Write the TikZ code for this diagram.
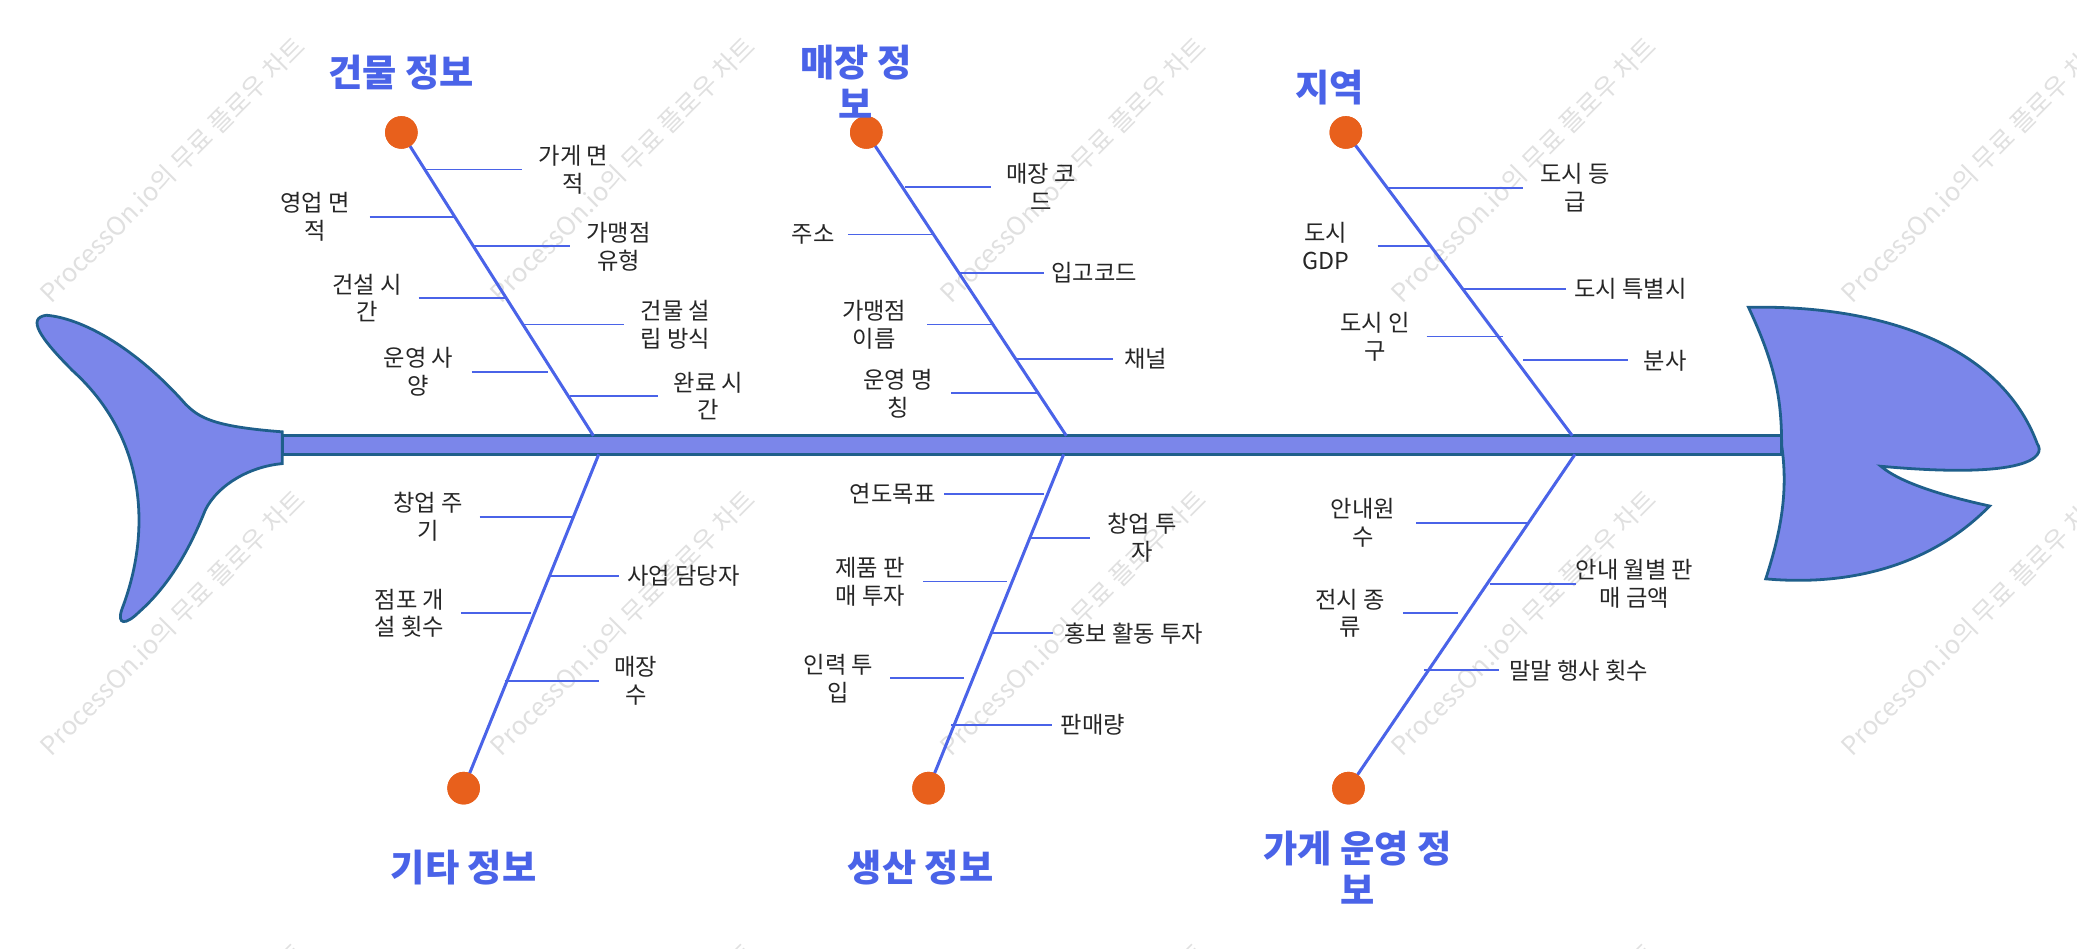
\documentclass[tikz,border=0pt]{standalone}
\usepackage{fontspec}
\setmainfont{Noto Sans CJK KR}
\begin{document}
\begin{tikzpicture}[x=0.02cm,y=-0.02cm,
  bone/.style={draw=boneblue,line width=1.3pt},
  br/.style={draw=boneblue,line width=0.8pt},
  lbl/.style={font=\fontsize{10}{12}\selectfont,align=center,text=black!85,inner sep=1pt},
  ttl/.style={font=\fontsize{16}{18}\selectfont\bfseries,align=center,text=boneblue,inner sep=1pt},
  dot/.style={circle,fill=dotorange,minimum size=14pt,inner sep=0pt},
  wm/.style={font=\fontsize{11}{12}\selectfont,text=black!12,rotate=45}]
\definecolor{boneblue}{HTML}{4A63E8}
\definecolor{dotorange}{HTML}{E8601C}
\definecolor{fishfill}{HTML}{7B86EA}
\definecolor{fishline}{HTML}{1F5F8B}
\useasboundingbox (0,0) rectangle (1568,716);
% watermarks
\foreach \x in {130,470,810,1150,1490}{\foreach \y in {128,470,812}{
  \node[wm] at (\x,\y) {ProcessOn.io의 무료 플로우 차트};}}
% tail
\path[fill=fishfill,draw=fishline,line width=1.2pt]
  (213,326) .. controls (160,322) and (150,315) .. (140,305)
  .. controls (100,260) and (60,240) .. (35,238)
  .. controls (20,240) and (30,255) .. (55,280)
  .. controls (110,330) and (115,400) .. (92,460)
  .. controls (88,472) and (95,472) .. (105,462)
  .. controls (130,440) and (145,410) .. (155,385)
  .. controls (165,365) and (190,352) .. (213,350) -- cycle;
% head
\path[fill=fishfill,draw=fishline,line width=1.2pt]
  (1320,232) .. controls (1420,230) and (1510,260) .. (1538,335)
  .. controls (1545,345) and (1530,362) .. (1420,352)
  .. controls (1435,365) and (1470,375) .. (1502,382)
  .. controls (1460,425) and (1400,443) .. (1333,437)
  .. controls (1345,400) and (1350,370) .. (1345,336)
  .. controls (1345,300) and (1340,275) .. (1320,232) -- cycle;
% spine
\path[fill=fishfill,draw=fishline,line width=1.2pt] (213,329) rectangle (1345,343);
% dots
\node[dot] (d1) at (303,100) {}; \node[dot] (d2) at (654,100) {}; \node[dot] (d3) at (1016,100) {};
\node[dot] (d4) at (350,595) {}; \node[dot] (d5) at (701,595) {}; \node[dot] (d6) at (1018,595) {};
\coordinate (s1) at (448,329); \coordinate (s2) at (805,329); \coordinate (s3) at (1187,329);
\coordinate (s4) at (452,343); \coordinate (s5) at (803,343); \coordinate (s6) at (1189,343);
\draw[bone] (d1.center) -- (s1); \draw[bone] (d2.center) -- (s2); \draw[bone] (d3.center) -- (s3);
\draw[bone] (d4.center) -- (s4); \draw[bone] (d5.center) -- (s5); \draw[bone] (d6.center) -- (s6);
\node[dot] at (303,100) {}; \node[dot] at (654,100) {}; \node[dot] at (1016,100) {};
\node[dot] at (350,595) {}; \node[dot] at (701,595) {}; \node[dot] at (1018,595) {};
% titles
\node[ttl] (t1) at (303,55) {건물 정보};
\node[ttl] (t2) at (646,62) {매장 정\\보};
\node[ttl] (t3) at (1004,66) {지역};
\node[ttl] (t4) at (350,655) {기타 정보};
\node[ttl] (t5) at (695,655) {생산 정보};
\node[ttl] (t6) at (1025,655) {가게 운영 정\\보};
% branches: x1,x2,y,textx,label
\foreach \a/\b/\y/\tx/\t in {
 321/394/128/433/{가게 면\\적}, 279/343/164/238/{영업 면\\적}, 357/430/186/467/{가맹점\\유형},
 316/382/225/277/{건설 시\\간}, 395/471/245/510/{건물 설\\립 방식}, 356/414/281/316/{운영 사\\양},
 430/497/299/535/{완료 시\\간},
 683/748/141/786/{매장 코\\드}, 640/705/177/614/{주소}, 725/788/206/826/{입고코드},
 700/749/245/660/{가맹점\\이름}, 768/840/271/865/{채널}, 718/783/297/678/{운영 명\\칭},
 1047/1150/142/1189/{도시 등\\급}, 1040/1081/186/1001/{도시\\GDP}, 1105/1182/218/1231/{도시 특별시},
 1077/1135/254/1038/{도시 인\\구}, 1150/1229/272/1257/{분사},
 362/433/390/323/{창업 주\\기}, 414/467/435/516/{사업 담당자}, 348/401/463/309/{점포 개\\설 횟수},
 381/452/514/480/{매장\\수},
 713/788/373/674/{연도목표}, 777/823/406/862/{창업 투\\자}, 697/760/439/657/{제품 판\\매 투자},
 749/795/478/856/{홍보 활동 투자}, 672/728/512/633/{인력 투\\입}, 718/794/547/825/{판매량},
 1069/1153/395/1029/{안내원\\수}, 1125/1190/441/1234/{안내 월별 판\\매 금액},
 1059/1101/463/1019/{전시 종\\류}, 1075/1132/506/1192/{말말 행사 횟수}}{
 \coordinate (ba) at (\a,\y); \coordinate (bb) at (\b,\y);
 \draw[br] (ba) -- (bb);
 \node[lbl] at (\tx,\y) {\t};
}
\end{tikzpicture}
\end{document}
